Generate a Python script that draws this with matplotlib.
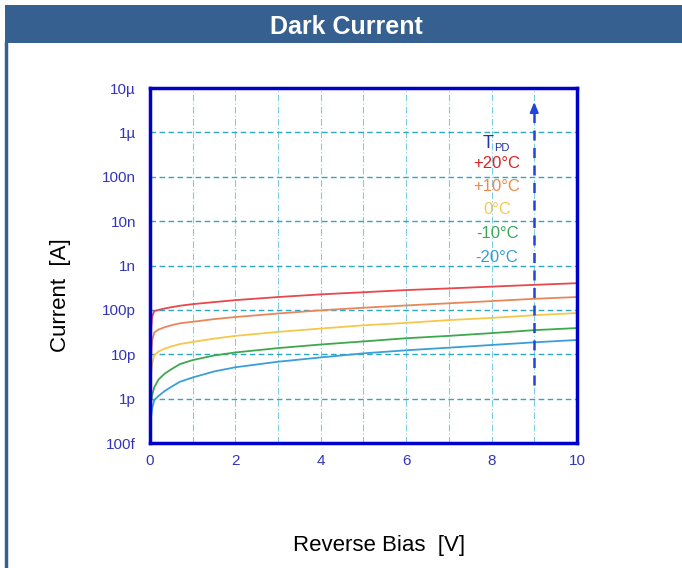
import matplotlib.pyplot as plt
from matplotlib.patches import Rectangle
from matplotlib.lines import Line2D

# reverse bias [V]
bias = [0, 0.02, 0.05, 0.1, 0.2, 0.35, 0.5, 0.7, 1, 1.5, 2, 3, 4, 5, 6, 7, 8, 9, 10]

# dark current [A] per photodiode temperature
i_p20 = [1e-11, 3e-11, 7e-11, 9.4e-11, 1.0e-10, 1.08e-10, 1.15e-10, 1.24e-10, 1.35e-10, 1.5e-10,
         1.66e-10, 1.95e-10, 2.24e-10, 2.5e-10, 2.8e-10, 3.05e-10, 3.35e-10, 3.67e-10, 4.0e-10]
i_p10 = [3e-12, 8e-12, 2e-11, 3.1e-11, 3.6e-11, 4.1e-11, 4.5e-11, 5.0e-11, 5.4e-11, 6.2e-11,
         6.9e-11, 8.3e-11, 9.8e-11, 1.12e-10, 1.26e-10, 1.41e-10, 1.58e-10, 1.78e-10, 1.95e-10]
i_0 = [1e-12, 3e-12, 6e-12, 9.5e-12, 1.15e-11, 1.35e-11, 1.5e-11, 1.7e-11, 1.9e-11, 2.25e-11,
       2.6e-11, 3.2e-11, 3.8e-11, 4.5e-11, 5.1e-11, 5.9e-11, 6.6e-11, 7.6e-11, 8.5e-11]
i_m10 = [4e-13, 7e-13, 1.2e-12, 1.8e-12, 2.7e-12, 3.7e-12, 4.6e-12, 6.0e-12, 7.4e-12, 9.4e-12,
         1.1e-11, 1.38e-11, 1.66e-11, 1.95e-11, 2.3e-11, 2.6e-11, 3.0e-11, 3.5e-11, 3.9e-11]
i_m20 = [2e-13, 3.5e-13, 6e-13, 9.3e-13, 1.15e-12, 1.5e-12, 1.85e-12, 2.4e-12, 3.0e-12, 4.1e-12,
         5.1e-12, 6.8e-12, 8.5e-12, 1.05e-11, 1.23e-11, 1.41e-11, 1.62e-11, 1.86e-11, 2.1e-11]

temps = ["+20°C", "+10°C", "0°C", "-10°C", "-20°C"]
line_colors = ["#e8474c", "#e8875a", "#f5c84a", "#3ea84e", "#3a9fd8"]
text_colors = ["#dd2222", "#ea8a4c", "#f4c850", "#3aa858", "#3a9ccc"]

y_ticks = [1e-13, 1e-12, 1e-11, 1e-10, 1e-9, 1e-8, 1e-7, 1e-6, 1e-5]
y_labels = ["100f", "1p", "10p", "100p", "1n", "10n", "100n", "1µ", "10µ"]
x_ticks = [0, 2, 4, 6, 8, 10]

plt.rcParams['font.family'] = ['Liberation Sans', 'DejaVu Sans']

fig = plt.figure(figsize=(6.82, 5.68), dpi=100)
band = "#35608f"
fig.patches.append(Rectangle((0.007, 0.924), 0.993, 0.067, transform=fig.transFigure,
                             facecolor=band, edgecolor="none"))
fig.add_artist(Line2D([0.009, 0.009], [0.0, 0.924], transform=fig.transFigure,
                      color=band, lw=2.5))
fig.text(0.508, 0.953, "Dark Current", color="white", fontsize=18, fontweight="bold",
         ha="center", va="center")

ax = fig.add_axes([0.2199, 0.220, 0.626, 0.625])

for curve, c in zip([i_p20, i_p10, i_0, i_m10, i_m20], line_colors):
    ax.plot(bias, curve, color=c, lw=1.3)

ax.set_yscale("log")
ax.set_xlim(0, 10)
ax.set_ylim(1e-13, 1e-5)
ax.set_yticks(y_ticks)
ax.set_yticklabels(y_labels)
ax.minorticks_off()
ax.set_xticks(x_ticks)
ax.set_xticks(range(0, 11), minor=True)
ax.tick_params(which="both", length=0, labelsize=11, labelcolor="#3535bb")
ax.tick_params(axis="y", pad=10)
ax.tick_params(axis="x", pad=8)

ax.grid(True, axis="y", which="major", color="#2fa6c6", lw=1.0, ls=(0, (4, 2.5)))
ax.grid(True, axis="x", which="both", color="#7fcde0", lw=0.8, ls=(0, (6, 2, 1, 2)))
for s in ax.spines.values():
    s.set_color("#0000cc")
    s.set_linewidth(2.5)

# temperature arrow
ax.plot([9, 9], [2e-12, 3e-6], color="#2244dd", lw=1.8, ls=(0, (4, 3)))
ax.annotate("", xy=(9, 5.6e-6), xytext=(9, 2.5e-6),
            arrowprops=dict(arrowstyle="-|>,head_width=0.25,head_length=0.6",
                            color="#2244dd", lw=1.5))

ax.text(8.05, 10**-6.26, "T", color="#2233aa", fontsize=13, ha="right", va="center")
ax.text(8.05, 10**-6.36, "PD", color="#2233aa", fontsize=8, ha="left", va="center")
for t, c, ly in zip(temps, text_colors, [-6.69, -7.21, -7.73, -8.27, -8.81]):
    ax.text(8.13, 10**ly, t, color=c, fontsize=12, ha="center", va="center")

fig.text(0.088, 0.481, "Current  [A]", rotation=90, fontsize=16,
         ha="center", va="center")
fig.text(0.556, 0.040, "Reverse Bias  [V]", fontsize=16,
         ha="center", va="center")

fig.savefig("out.png", dpi=100)
